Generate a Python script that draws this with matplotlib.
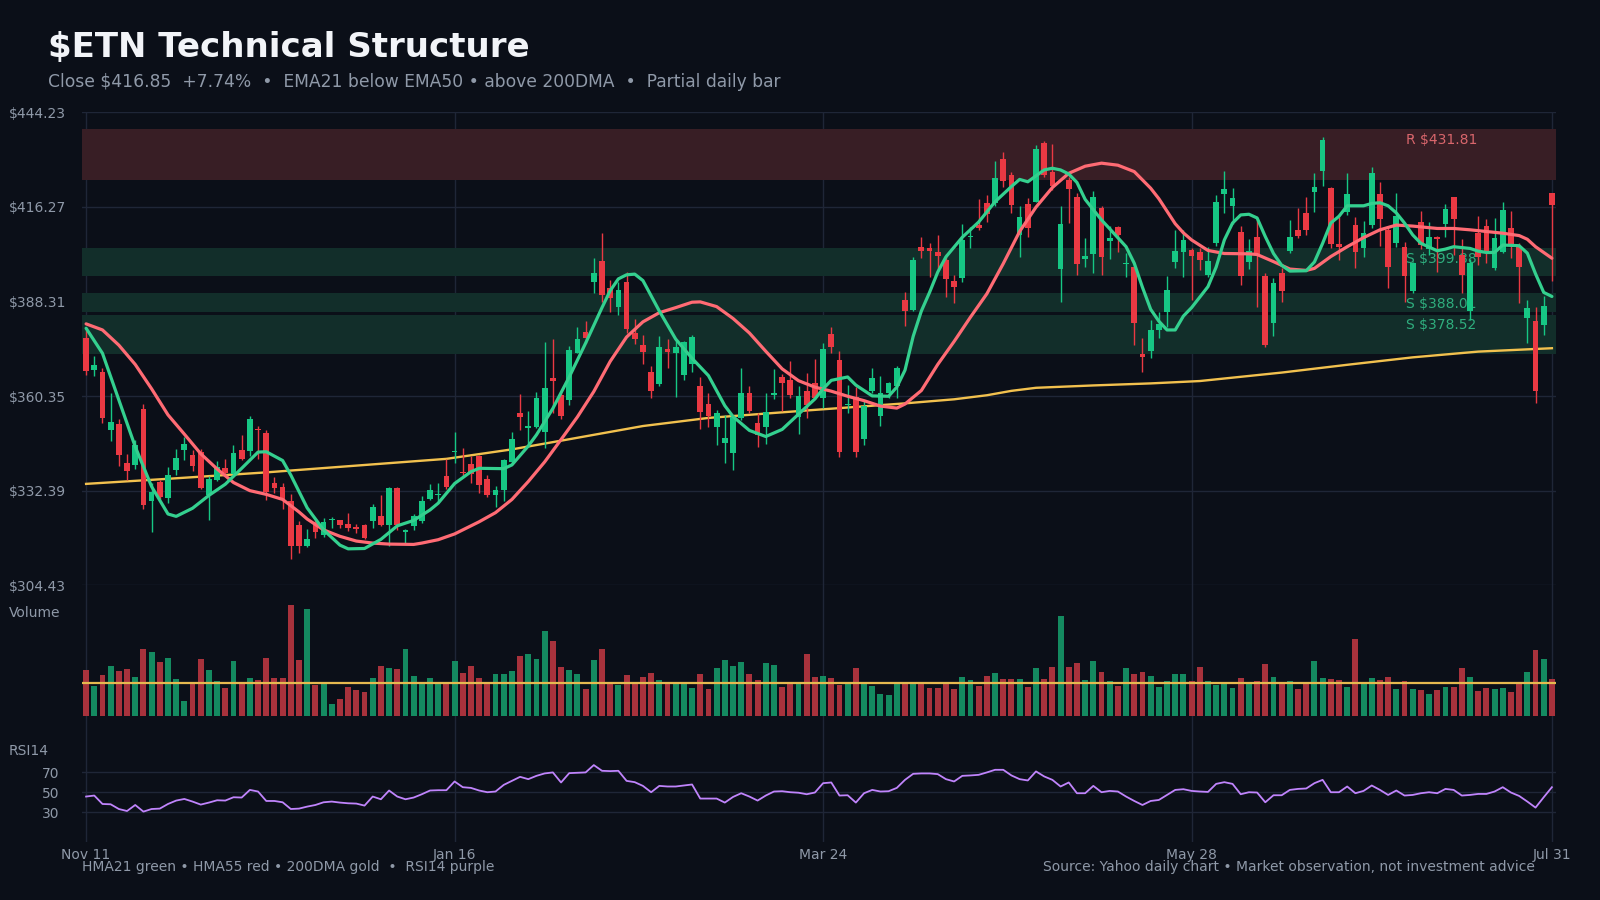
import numpy as np
import matplotlib.pyplot as plt

# ---- data ----
dates = ["Nov 11", "Jan 16", "Mar 24", "May 28", "Jul 31"]
date_idx = [0, 45, 90, 135, 179]

opens = [377.6, 368.1, 367.5, 350.2, 352.1, 340.5, 340.0, 356.6, 329.2, 335.1,
         330.1, 338.5, 344.5, 343.0, 343.9, 331.2, 335.6, 339.1, 337.3, 344.4,
         344.0, 350.6, 349.5, 334.7, 333.5, 329.4, 322.3, 315.9, 323.0, 319.4,
         323.6, 323.6, 322.6, 321.8, 322.3, 323.3, 324.8, 322.3, 333.3, 320.3,
         322.0, 323.3, 329.9, 331.0, 336.7, 343.7, 338.0, 340.3, 342.5, 335.9,
         331.2, 332.6, 341.0, 355.3, 351.0, 351.3, 349.6, 365.8, 360.7, 359.2,
         373.2, 379.3, 394.2, 400.3, 392.2, 386.8, 394.2, 378.9, 375.5, 367.6,
         364.0, 374.3, 373.2, 366.6, 369.8, 363.2, 358.0, 351.3, 346.4, 343.5,
         353.8, 361.2, 352.3, 351.3, 360.8, 366.1, 365.1, 354.1, 361.9, 364.3,
         359.7, 378.7, 371.0, 357.6, 360.2, 347.6, 362.0, 354.5, 361.2, 363.4,
         388.8, 385.8, 404.5, 404.0, 402.9, 400.6, 394.4, 395.4, 407.3, 410.9,
         417.3, 417.3, 430.3, 425.7, 408.0, 417.1, 417.8, 435.3, 426.7, 397.8,
         424.2, 419.3, 400.8, 402.3, 415.9, 406.3, 410.3, 399.3, 398.6, 372.8,
         373.8, 379.9, 385.3, 400.1, 402.8, 403.5, 402.8, 396.2, 405.7, 420.1,
         416.6, 408.8, 399.9, 407.3, 395.9, 382.1, 396.7, 403.1, 409.5, 414.4,
         420.8, 427.0, 421.8, 405.3, 414.9, 410.9, 404.2, 410.9, 420.1, 409.3,
         405.7, 404.5, 391.5, 411.9, 403.7, 407.5, 411.2, 419.1, 402.1, 385.6,
         408.5, 410.6, 398.1, 402.8, 409.9, 404.5, 383.3, 382.6, 381.4, 420.3]
highs = [379.9, 372.2, 368.6, 361.2, 353.5, 343.3, 347.4, 358.0, 334.6, 335.6,
         339.5, 344.7, 348.2, 344.3, 344.6, 336.6, 341.2, 341.8, 345.9, 348.9,
         354.5, 351.5, 350.4, 336.3, 334.6, 331.3, 323.5, 321.1, 324.3, 324.3,
         324.6, 323.7, 325.7, 322.6, 322.6, 328.5, 331.1, 333.6, 333.6, 321.0,
         325.5, 330.7, 334.4, 334.8, 341.7, 349.8, 344.9, 342.7, 343.0, 337.0,
         333.8, 341.7, 349.6, 361.0, 355.8, 361.7, 376.2, 377.2, 361.2, 375.2,
         380.7, 382.6, 401.1, 408.5, 394.7, 394.2, 397.1, 383.2, 378.4, 369.1,
         378.1, 377.2, 376.9, 376.7, 378.4, 366.1, 361.4, 356.3, 354.8, 354.8,
         368.6, 363.4, 355.3, 361.2, 368.3, 366.9, 370.7, 363.4, 367.1, 371.2,
         376.0, 380.7, 373.7, 363.6, 363.0, 359.2, 368.8, 366.3, 364.6, 369.3,
         391.2, 401.6, 407.5, 405.7, 408.0, 402.4, 396.2, 411.2, 410.4, 418.6,
         419.8, 429.7, 432.5, 426.7, 416.5, 418.8, 434.6, 435.9, 434.9, 416.4,
         425.2, 420.3, 407.2, 421.1, 416.4, 410.6, 410.6, 402.6, 398.8, 377.6,
         382.9, 385.1, 395.7, 409.5, 409.5, 404.0, 404.0, 404.5, 419.8, 426.9,
         421.8, 410.6, 406.7, 412.4, 396.7, 395.2, 398.1, 412.4, 415.9, 419.3,
         426.2, 436.8, 422.1, 413.4, 426.2, 413.4, 412.2, 428.2, 423.7, 410.6,
         420.5, 406.0, 400.1, 415.2, 411.9, 407.7, 417.1, 419.3, 406.7, 400.8,
         413.6, 412.6, 412.9, 417.8, 415.2, 405.5, 388.8, 386.8, 389.8, 420.3]
lows = [366.6, 366.3, 352.5, 347.2, 339.8, 335.4, 338.7, 327.1, 320.3, 329.8,
        328.7, 337.1, 341.5, 338.3, 332.8, 323.6, 335.3, 336.6, 337.1, 341.5,
        342.5, 341.7, 329.5, 331.8, 326.9, 312.1, 314.1, 315.7, 318.3, 318.7,
        321.3, 321.3, 320.6, 320.0, 318.2, 321.3, 322.0, 315.9, 320.8, 316.9,
        320.8, 322.9, 329.6, 328.7, 332.8, 340.7, 336.6, 334.6, 331.6, 330.6,
        327.7, 329.2, 340.5, 350.4, 345.4, 350.8, 344.9, 355.3, 353.5, 357.7,
        373.0, 376.0, 390.7, 388.3, 385.3, 384.3, 378.9, 375.8, 369.9, 359.9,
        363.2, 368.8, 360.2, 365.1, 367.6, 350.6, 351.3, 345.9, 340.7, 338.5,
        353.3, 355.3, 345.4, 346.2, 359.4, 355.8, 359.7, 349.2, 353.8, 359.4,
        356.8, 373.0, 342.3, 355.3, 342.3, 345.9, 361.2, 351.5, 359.7, 359.9,
        381.1, 385.6, 401.3, 395.5, 397.9, 389.5, 387.8, 394.2, 404.0, 409.3,
        411.9, 416.4, 422.1, 414.4, 401.6, 407.5, 417.8, 425.2, 421.3, 388.3,
        411.6, 396.2, 398.6, 396.7, 396.2, 400.8, 403.0, 395.5, 375.5, 367.6,
        371.5, 377.4, 380.7, 398.1, 395.5, 388.9, 397.6, 395.5, 404.7, 414.6,
        411.2, 393.2, 397.8, 386.6, 374.8, 378.1, 388.3, 402.6, 407.0, 408.0,
        414.9, 422.5, 404.0, 400.6, 413.9, 398.1, 401.4, 409.9, 404.7, 392.4,
        404.5, 388.3, 390.7, 403.7, 402.1, 397.1, 407.5, 402.1, 390.9, 382.9,
        399.1, 399.6, 397.6, 402.6, 401.1, 387.8, 376.0, 358.2, 378.4, 394.4]
closes = [367.9, 369.6, 354.0, 352.7, 342.8, 338.3, 345.8, 328.3, 332.0, 330.5,
          337.1, 342.0, 346.2, 339.7, 333.1, 335.8, 339.5, 337.5, 343.5, 341.8,
          353.6, 350.2, 332.1, 333.3, 329.7, 315.9, 315.9, 318.1, 320.3, 323.0,
          324.1, 322.3, 321.5, 321.1, 318.5, 327.7, 322.3, 333.3, 322.3, 320.8,
          324.8, 329.4, 332.6, 331.4, 333.6, 344.1, 337.5, 337.3, 334.1, 331.2,
          332.6, 341.5, 347.6, 354.3, 351.5, 359.9, 362.7, 364.9, 354.6, 374.0,
          377.3, 377.6, 396.6, 390.2, 389.3, 391.7, 380.2, 377.2, 373.5, 362.0,
          375.0, 373.5, 374.9, 376.2, 377.7, 355.5, 354.5, 355.3, 347.9, 354.3,
          361.2, 355.8, 348.9, 355.5, 361.2, 364.1, 360.7, 360.4, 357.7, 359.9,
          374.2, 375.0, 343.7, 358.0, 343.7, 357.3, 365.6, 361.2, 364.1, 368.8,
          385.6, 400.6, 403.1, 403.3, 401.8, 395.0, 392.7, 406.5, 407.7, 409.9,
          414.2, 424.7, 424.0, 416.8, 413.4, 409.9, 433.4, 425.7, 422.5, 411.2,
          421.5, 399.3, 401.8, 419.3, 401.6, 407.0, 408.0, 399.6, 382.1, 372.0,
          379.9, 381.7, 391.7, 403.3, 406.5, 401.9, 400.6, 400.3, 417.6, 421.6,
          418.8, 395.9, 403.1, 402.4, 375.5, 393.7, 391.5, 407.3, 407.7, 409.5,
          422.1, 436.1, 405.3, 404.5, 420.1, 402.8, 408.5, 426.2, 412.6, 398.6,
          413.6, 395.7, 399.6, 405.0, 407.5, 406.8, 415.8, 412.8, 396.2, 399.8,
          401.6, 403.1, 407.0, 415.4, 405.0, 398.6, 386.3, 361.9, 387.0, 416.85]

# volume in millions
volume = [4.15, 2.70, 3.70, 4.52, 4.06, 4.25, 3.52, 6.06, 5.79, 4.88,
          5.25, 3.34, 1.34, 2.94, 5.15, 4.15, 3.15, 2.52, 4.97, 2.94,
          3.43, 3.25, 5.25, 3.43, 3.43, 10.06, 5.06, 9.70, 2.79, 2.94,
          1.06, 1.52, 2.61, 2.34, 2.15, 3.43, 4.52, 4.34, 4.25, 6.06,
          3.61, 2.94, 3.43, 2.94, 2.94, 4.97, 3.88, 4.52, 3.43, 2.94,
          3.79, 3.79, 4.06, 5.43, 5.61, 5.15, 7.70, 6.79, 4.43, 4.15,
          3.79, 2.43, 5.06, 6.06, 2.94, 2.79, 3.70, 2.94, 3.52, 3.88,
          3.25, 2.94, 2.94, 2.94, 2.52, 3.79, 2.43, 4.34, 5.06, 4.52,
          4.88, 3.79, 3.25, 4.79, 4.61, 2.61, 2.94, 2.94, 5.61, 3.52,
          3.61, 3.43, 2.79, 2.94, 4.34, 2.94, 2.70, 1.97, 1.88, 2.94,
          2.94, 2.94, 2.94, 2.52, 2.52, 2.94, 2.43, 3.52, 3.25, 2.70,
          3.61, 3.88, 3.34, 3.34, 3.34, 2.61, 4.34, 3.34, 4.43, 9.06,
          4.43, 4.79, 3.25, 4.97, 3.97, 3.15, 2.70, 4.34, 3.79, 3.97,
          3.61, 2.61, 3.15, 3.79, 3.79, 3.15, 4.43, 3.15, 2.79, 2.94,
          2.52, 3.43, 2.94, 3.15, 4.70, 3.52, 2.94, 3.15, 2.43, 2.94,
          4.97, 3.43, 3.34, 3.25, 2.61, 6.97, 2.94, 3.43, 3.25, 3.52,
          2.43, 3.15, 2.43, 2.34, 1.97, 2.34, 2.61, 2.61, 4.34, 3.52,
          2.25, 2.52, 2.43, 2.52, 2.15, 2.94, 3.97, 5.97, 5.15, 3.34]
vol_avg = 2.97

rsi = [45.7, 46.7, 38.3, 38.0, 33.3, 31.3, 37.3, 30.7, 33.3, 33.7,
       38.3, 41.7, 43.3, 40.7, 37.7, 39.7, 42.0, 41.7, 45.0, 44.7,
       52.3, 50.7, 41.3, 41.3, 40.0, 33.3, 33.7, 35.7, 37.3, 40.0,
       40.7, 39.7, 39.0, 38.7, 36.7, 45.7, 43.0, 51.7, 45.7, 43.0,
       44.7, 48.0, 51.7, 52.0, 52.0, 60.7, 55.0, 54.3, 51.7, 50.0,
       50.7, 57.3, 61.3, 65.3, 63.0, 66.3, 68.7, 69.7, 59.7, 69.0,
       69.3, 69.7, 77.0, 71.3, 71.0, 71.3, 61.3, 60.0, 56.3, 50.0,
       56.3, 55.7, 55.7, 56.7, 57.7, 43.7, 43.7, 43.7, 39.7, 45.3,
       49.0, 45.7, 41.7, 46.7, 50.7, 51.0, 50.0, 49.5, 48.0, 49.7,
       59.0, 59.7, 46.7, 47.0, 39.7, 49.0, 52.3, 50.7, 51.0, 54.3,
       62.3, 68.3, 68.7, 68.7, 68.0, 63.0, 60.7, 66.3, 66.7, 67.3,
       69.7, 72.3, 72.3, 66.7, 63.0, 61.7, 70.7, 65.7, 62.3, 55.7,
       59.7, 49.0, 49.0, 56.3, 50.0, 51.3, 50.7, 45.7, 41.3, 37.3,
       41.3, 42.3, 47.3, 52.3, 53.0, 51.3, 50.7, 50.3, 58.3, 60.0,
       58.3, 48.0, 50.0, 49.7, 40.0, 47.0, 47.0, 52.3, 53.3, 53.7,
       59.0, 62.3, 50.0, 50.0, 55.7, 49.0, 51.3, 56.7, 52.3, 47.3,
       51.7, 46.7, 47.3, 49.0, 50.0, 49.0, 53.3, 52.3, 46.7, 47.3,
       48.3, 48.3, 50.7, 55.0, 49.7, 46.3, 40.7, 34.7, 45.0, 55.0]

# moving averages sampled at bar indices
hma21_x = [0, 2, 4, 6, 8, 10, 11, 13, 15, 17, 19, 21, 22, 24, 25, 27, 29, 31, 32, 34,
           36, 38, 40, 42, 43, 45, 47, 48, 51, 52, 54, 55, 57, 59, 61, 63, 64, 65, 66, 67,
           68, 70, 72, 74, 76, 78, 79, 81, 83, 85, 87, 89, 90, 91, 93, 94, 96, 98, 99, 100,
           101, 102, 103, 104, 105, 107, 109, 111, 113, 114, 115, 117, 118, 119, 120, 121, 122, 124, 125, 127,
           128, 129, 130, 131, 132, 133, 134, 135, 137, 138, 139, 140, 141, 142, 143, 144, 145, 146, 147, 149,
           150, 151, 152, 153, 154, 156, 157, 158, 159, 160, 161, 162, 163, 164, 165, 166, 167, 169, 170, 171,
           172, 173, 175, 176, 177, 178, 179]
hma21 = [380.4, 373.0, 359.2, 345.4, 333.6, 325.5, 324.8, 327.2, 331.0, 334.3, 339.0, 343.8, 343.9, 341.3, 337.0, 327.3, 320.8, 316.3, 315.2, 315.3,
         318.0, 322.0, 323.6, 326.7, 328.7, 334.5, 338.0, 339.0, 338.9, 340.0, 345.6, 348.9, 356.7, 366.0, 376.0, 386.5, 391.5, 395.0, 396.2, 396.4,
         394.5, 385.5, 377.2, 371.5, 366.4, 357.5, 354.3, 350.2, 348.4, 350.5, 355.0, 359.5, 362.5, 365.0, 366.0, 363.6, 360.4, 360.3, 363.0, 368.0,
         378.0, 385.5, 391.0, 397.0, 401.5, 407.3, 411.8, 417.8, 422.3, 424.4, 423.7, 427.2, 427.7, 427.2, 426.0, 423.5, 418.5, 412.4, 409.8, 404.5,
         399.6, 392.5, 386.0, 382.5, 379.9, 379.9, 384.0, 386.5, 392.7, 398.5, 406.5, 411.5, 413.9, 414.1, 413.0, 407.5, 402.5, 399.0, 397.3, 397.4,
         400.0, 405.5, 411.5, 413.5, 416.6, 416.6, 417.3, 417.5, 416.6, 414.5, 411.5, 408.0, 405.5, 404.4, 403.3, 403.8, 404.5, 404.0, 403.2, 402.8,
         402.8, 405.0, 404.8, 402.6, 396.5, 391.0, 389.8]

hma55_x = [0, 2, 4, 6, 8, 10, 12, 14, 16, 18, 20, 22, 24, 26, 27, 29, 31, 33, 35, 37,
           40, 41, 43, 45, 48, 50, 52, 54, 56, 58, 60, 62, 64, 66, 68, 70, 72, 74, 75, 77,
           79, 81, 83, 85, 87, 89, 91, 93, 95, 97, 99, 100, 102, 104, 106, 108, 110, 112, 114, 116,
           118, 120, 122, 124, 126, 128, 130, 131, 133, 134, 135, 137, 139, 142, 143, 145, 147, 149, 150, 152,
           154, 156, 158, 160, 162, 165, 167, 169, 171, 173, 175, 176, 177, 178, 179]
hma55 = [381.7, 379.9, 375.4, 369.7, 362.5, 354.8, 349.1, 343.3, 338.8, 334.8, 332.4, 331.3, 329.8, 326.1, 324.0, 320.8, 318.9, 317.5, 316.9, 316.6,
         316.5, 316.9, 317.9, 319.6, 323.2, 325.9, 329.8, 335.1, 340.9, 347.5, 354.2, 361.7, 370.6, 377.8, 382.3, 385.0, 386.5, 388.1, 388.2, 386.8,
         383.3, 379.0, 373.6, 368.4, 364.9, 363.0, 361.8, 360.3, 359.0, 357.4, 356.8, 358.0, 362.0, 369.7, 376.5, 383.7, 390.6, 399.5, 409.0, 416.2,
         422.0, 426.2, 428.3, 429.2, 428.6, 426.7, 421.8, 418.7, 411.3, 408.6, 406.5, 403.4, 402.5, 402.4, 402.2, 400.1, 397.9, 397.5, 398.1, 401.6,
         404.5, 407.2, 409.5, 410.9, 410.6, 409.9, 409.9, 409.5, 409.0, 408.5, 407.8, 406.7, 404.5, 402.8, 401.1]

dma200_x = [0, 10, 22, 33, 44, 52, 59, 68, 76, 88, 100, 106, 110, 113, 116, 123, 130, 136, 146, 154, 162, 170, 179]
dma200 = [334.4, 335.9, 337.8, 339.8, 341.8, 344.6, 347.6, 351.5, 353.9, 356.1, 358.2, 359.4, 360.6, 361.9, 362.8,
          363.5, 364.1, 364.8, 367.3, 369.6, 371.8, 373.5, 374.5]

# support / resistance zones
zone_kind = ["R", "S", "S", "S"]
zone_level = [431.81, 399.88, 388.01, 378.52]
zone_half = [7.5, 4.1, 2.7, 5.7]
zone_label_y = [436.1, 400.8, 387.6, 381.4]

price_ticks = [304.43, 332.39, 360.35, 388.31, 416.27, 444.23]

# ---- style ----
BG = '#0b0f18'
GRID = '#1f2637'
TXT = '#8f99a8'
UP = '#16c784'
DN = '#ea3943'
UP_V = '#148a60'
DN_V = '#a8323c'
GOLD = '#f2c14e'

fig = plt.figure(figsize=(16, 9), dpi=100, facecolor=BG)
ax = fig.add_axes([0.05125, 0.3497, 0.92125, 0.5255])
axv = fig.add_axes([0.05125, 0.17556, 0.92125, 0.1741], sharex=ax)
axr = fig.add_axes([0.05125, 0.0639, 0.92125, 0.1117], sharex=ax)

for a in (ax, axv, axr):
    a.set_facecolor(BG)
    for s in a.spines.values():
        s.set_visible(False)
    a.tick_params(length=0, colors=TXT, labelsize=10)
    a.set_axisbelow(True)
    a.grid(True, axis='x', color=GRID, lw=1.0)

x = np.arange(len(closes))
o = np.array(opens)
c = np.array(closes)
up = c >= o

# price panel
ax.grid(True, axis='y', color=GRID, lw=1.0)
for k, lvl, hw, ly in zip(zone_kind, zone_level, zone_half, zone_label_y):
    fc = '#381e25' if k == "R" else '#122e2a'
    tc = '#d9666c' if k == "R" else '#2fae7e'
    ax.axhspan(lvl - hw, lvl + hw, color=fc, lw=0, zorder=1)
    ax.text(0.898, ly, f"{k} ${lvl:.2f}", transform=ax.get_yaxis_transform(),
            color=tc, fontsize=10, va='center', ha='left', zorder=1.5)

ax.plot(dma200_x, dma200, color=GOLD, lw=1.7, zorder=2.5)
cols = np.where(up, UP, DN)
ax.vlines(x, lows, highs, colors=cols, lw=1.0, zorder=3)
ax.bar(x, np.maximum(np.abs(c - o), 0.35), bottom=np.minimum(o, c), width=0.7,
       color=cols, zorder=3.5)
ax.plot(hma55_x, hma55, color='#ff6b74', lw=2.3, zorder=4, solid_capstyle='round')
ax.plot(hma21_x, hma21, color='#34d08f', lw=2.3, zorder=4.5, solid_capstyle='round')

ax.set_xlim(-0.5, len(closes) - 0.5)
ax.set_ylim(price_ticks[0], price_ticks[-1])
ax.set_yticks(price_ticks)
ax.set_yticklabels([f"${v:.2f}" for v in price_ticks])
ax.tick_params(axis='y', pad=11.5)
ax.set_xticks(date_idx)
ax.tick_params(axis='x', labelbottom=False)

# volume panel
vmax = max(volume)
axv.bar(x, volume, width=0.72, color=np.where(up, UP_V, DN_V), zorder=2)
axv.axhline(vol_avg, color='#e6b94f', lw=1.6, zorder=3)
axv.set_ylim(-0.2377 * vmax, 1.179 * vmax)
axv.set_yticks([])
axv.tick_params(axis='x', labelbottom=False)

# RSI panel
axr.grid(True, axis='y', color=GRID, lw=1.0)
axr.plot(x, rsi, color='#c084fc', lw=1.3, zorder=3)
axr.set_ylim(0, 100)
axr.set_yticks([30, 50, 70])
axr.tick_params(axis='y', pad=16)
axr.set_xticks(date_idx)
axr.set_xticklabels(dates)
axr.tick_params(axis='x', pad=4)

# texts
fig.text(0.03, 0.937, "$ETN Technical Structure", color='#f2f4f8', fontsize=24.5,
         fontweight='bold', va='baseline')
fig.text(0.03, 0.903, "Close $416.85  +7.74%  \u2022  EMA21 below EMA50 \u2022 above 200DMA  \u2022  Partial daily bar",
         color=TXT, fontsize=12.3, va='baseline')
fig.text(0.0054, 1 - 613 / 900, "Volume", color=TXT, fontsize=10, va='center')
fig.text(0.0054, 1 - 751 / 900, "RSI14", color=TXT, fontsize=10, va='center')
fig.text(82 / 1600, 1 - 866.5 / 900, "HMA21 green \u2022 HMA55 red \u2022 200DMA gold  \u2022  RSI14 purple",
         color=TXT, fontsize=10, va='center')
fig.text(1535 / 1600, 1 - 866.5 / 900,
         "Source: Yahoo daily chart \u2022 Market observation, not investment advice",
         color=TXT, fontsize=10, va='center', ha='right')

fig.savefig("out.png", dpi=100, facecolor=BG)
